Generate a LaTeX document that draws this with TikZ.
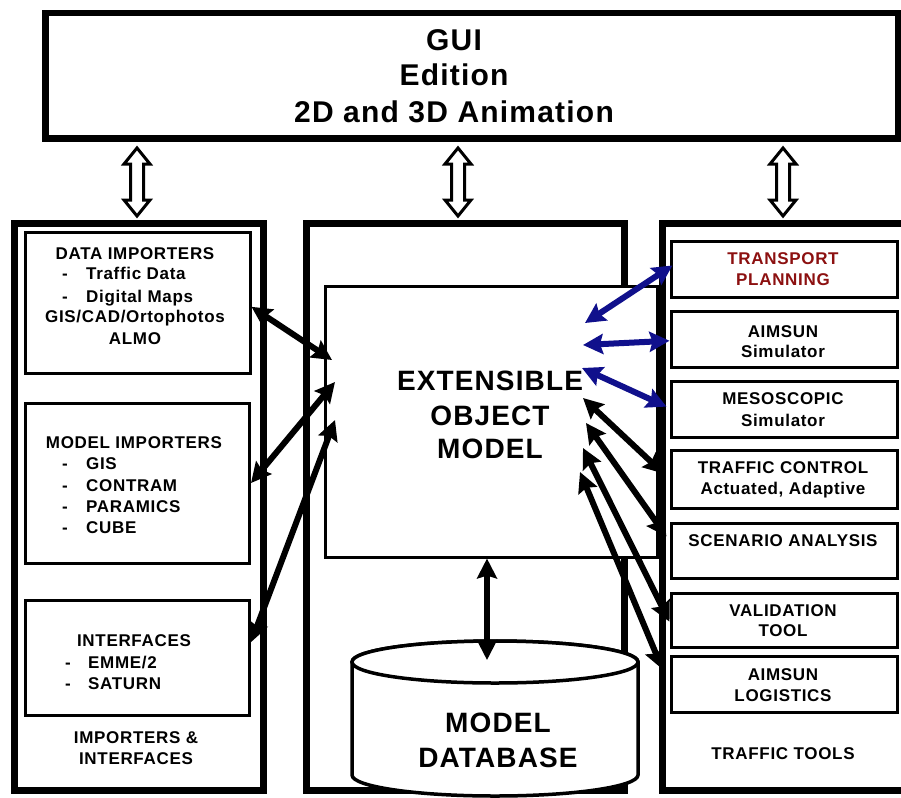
\documentclass[tikz,border=0pt]{standalone}
\usepackage{fontspec}
\setmainfont{Liberation Sans}[LetterSpace=4]
\usetikzlibrary{arrows.meta,calc}
\definecolor{navyarr}{RGB}{16,16,140}
\definecolor{tpred}{RGB}{140,16,16}
\newcommand\hollowud[2]{%
  \draw[hollowarr] let \p1=(#1), \p2=(#2) in
    (\x1,\y1) -- (\x1+13pt,\y1-16pt) -- (\x1+6.5pt,\y1-16pt) -- (\x1+6.5pt,\y2+16pt)
    -- (\x1+13pt,\y2+16pt) -- (\x1,\y2) -- (\x1-13pt,\y2+16pt) -- (\x1-6.5pt,\y2+16pt)
    -- (\x1-6.5pt,\y1-16pt) -- (\x1-13pt,\y1-16pt) -- cycle;}
\begin{document}
\begin{tikzpicture}[x=1pt,y=-1pt,
  panel/.style={draw, line width=6.5pt, fill=white, inner sep=0, anchor=north west},
  inbox/.style={draw, line width=3pt, fill=white, inner sep=0, anchor=north west},
  hollowarr/.style={draw, line width=3pt, fill=white, line join=miter},
  sm/.style={font=\fontsize{17}{20}\selectfont\bfseries, inner sep=0, anchor=base},
  smw/.style={font=\fontsize{17}{20}\selectfont\bfseries, inner sep=0, anchor=base west},
  big/.style={font=\fontsize{30}{35}\selectfont\bfseries, inner sep=0, anchor=base},
  eomf/.style={font=\fontsize{28}{33}\selectfont\bfseries, inner sep=0, anchor=base},
  dbl/.style={line width=6pt, {Stealth[length=20pt,width=20pt,inset=3pt]}-{Stealth[length=20pt,width=20pt,inset=3pt]}},
  dblb/.style={dbl, draw=navyarr, color=navyarr},
  cyl/.style={draw, line width=3.5pt, fill=white}]
\useasboundingbox (0,0) rectangle (901,797);
\clip (0,0) rectangle (901,797);
\fill[white] (0,0) rectangle (901,797);

% GUI
\node[panel, minimum width=853, minimum height=125] (gui) at (42,10) {};
\node[big] (g1) at (454,51) {GUI};
\node[big] (g2) at (454,86) {Edition};
\node[big] (g3) at (454,122) {2D and 3D Animation};

% panels
\node[panel, minimum width=249, minimum height=567] (lp) at (11,220) {};
\node[panel, minimum width=318, minimum height=567] (mp) at (303,220) {};
\node[inbox, minimum width=332, minimum height=271] (eom) at (323.5,284.5) {};
\node[panel, minimum width=271, minimum height=567] (rp) at (659,220) {};

% hollow arrows
\coordinate (ha1) at (137,148); \coordinate (hb1) at (137,216);
\coordinate (ha2) at (458,148); \coordinate (hb2) at (458,216);
\coordinate (ha3) at (783,148); \coordinate (hb3) at (783,216);
\hollowud{ha1}{hb1}
\hollowud{ha2}{hb2}
\hollowud{ha3}{hb3}

% EOM text
\node[eomf] (e1) at (490,390) {EXTENSIBLE};
\node[eomf] (e2) at (490,425) {OBJECT};
\node[eomf] (e3) at (490,458) {MODEL};

% database cylinder
\draw[cyl] (352,662) -- (352,775) arc[start angle=180, end angle=0, x radius=143, y radius=21]
  -- (638,662) arc[start angle=0, end angle=-180, x radius=143, y radius=21] -- cycle;
\draw[cyl] (495,662) ellipse [x radius=143, y radius=21];
\node[eomf] (db1) at (498,732) {MODEL};
\node[eomf] (db2) at (498,767) {DATABASE};
\coordinate (dbtop) at (487,660);

% left inner boxes
\node[inbox, minimum width=225, minimum height=141] (dimp) at (23.5,230.5) {};
\node[inbox, minimum width=224.5, minimum height=160] (mimp) at (23.5,401.5) {};
\node[inbox, minimum width=224.5, minimum height=115] (intf) at (23.5,598.5) {};

\node[sm] (d1) at (135,259) {DATA IMPORTERS};
\node[smw] (d2) at (62,279) {\makebox[24pt][l]{-}Traffic Data};
\node[smw] (d3) at (62,302) {\makebox[24pt][l]{-}Digital Maps};
\node[sm] (d4) at (135,322) {GIS/CAD/Ortophotos};
\node[sm] (d5) at (135,344) {ALMO};

\node[sm] (m1) at (134,448) {MODEL IMPORTERS};
\node[smw] (m2) at (62,469) {\makebox[24pt][l]{-}GIS};
\node[smw] (m3) at (62,491) {\makebox[24pt][l]{-}CONTRAM};
\node[smw] (m4) at (62,512) {\makebox[24pt][l]{-}PARAMICS};
\node[smw] (m5) at (62,533) {\makebox[24pt][l]{-}CUBE};

\node[sm] (i1) at (134,646) {INTERFACES};
\node[smw] (i2) at (65,668) {\makebox[23pt][l]{-}EMME/2};
\node[smw] (i3) at (65,689) {\makebox[23pt][l]{-}SATURN};

\node[sm] (lt1) at (136,743) {IMPORTERS \&};
\node[sm] (lt2) at (136,764) {INTERFACES};

% right inner boxes
\node[inbox, minimum width=226, minimum height=56] (tp) at (669.5,239.5) {};
\node[inbox, minimum width=226, minimum height=56] (aim) at (669.5,309.5) {};
\node[inbox, minimum width=226, minimum height=56] (meso) at (669.5,379.5) {};
\node[inbox, minimum width=226, minimum height=58] (tc) at (669.5,448.5) {};
\node[inbox, minimum width=226, minimum height=55] (sa) at (669.5,521.5) {};
\node[inbox, minimum width=226, minimum height=54] (vt) at (669.5,591.5) {};
\node[inbox, minimum width=226, minimum height=56] (al) at (669.5,654.5) {};

\node[sm, text=tpred] (tp1) at (783,264) {TRANSPORT};
\node[sm, text=tpred] (tp2) at (783,285) {PLANNING};
\node[sm] (a1) at (783,337) {AIMSUN};
\node[sm] (a2) at (783,357) {Simulator};
\node[sm] (ms1) at (783,404) {MESOSCOPIC};
\node[sm] (ms2) at (783,426) {Simulator};
\node[sm] (t1) at (783,473) {TRAFFIC CONTROL};
\node[sm] (t2) at (783,494) {Actuated, Adaptive};
\node[sm] (s1) at (783,546) {SCENARIO ANALYSIS};
\node[sm] (v1) at (783,616) {VALIDATION};
\node[sm] (v2) at (783,636) {TOOL};
\node[sm] (al1) at (783,680) {AIMSUN};
\node[sm] (al2) at (783,701) {LOGISTICS};
\node[sm] (rt) at (783,759) {TRAFFIC TOOLS};

% arrow end points inside EOM
\coordinate (L1) at (332,360);
\coordinate (L2) at (335,382);
\coordinate (L3) at (335,420);
\coordinate (R1) at (585,323);
\coordinate (R2) at (583,345);
\coordinate (R3) at (582,368);
\coordinate (R4) at (583,398);
\coordinate (R5) at (586,423);
\coordinate (R6) at (583,448);
\coordinate (R7) at (580,472);

% left arrows
\draw[dbl] ($(dimp.north east)!0.53!(dimp.south east)$) -- (L1);
\draw[dbl] (mimp.east) -- (L2);
\draw[dbl] ($(intf.north east)!0.37!(intf.south east)$) -- (L3);

% right arrows
\draw[dblb] (R1) -- ($(tp.north west)!0.44!(tp.south west)+(3,0)$);
\draw[dblb] (R2) -- ($(aim.north west)!0.53!(aim.south west)$);
\draw[dblb] (R3) -- ($(meso.north west)!0.46!(meso.south west)+(-3,0)$);
\draw[dbl] (R4) -- ($(tc.north west)!0.41!(tc.south west)+(-6,0)$);
\draw[dbl] (R5) -- ($(sa.north west)!0.26!(sa.south west)+(-3,0)$);
\draw[dbl] (R6) -- ($(vt.north west)!0.53!(vt.south west)$);
\draw[dbl] (R7) -- ($(al.north west)!0.25!(al.south west)+(-7,0)$);

% EOM <-> database
\draw[dbl, line width=6.5pt] (eom.south -| dbtop) -- (dbtop);
\end{tikzpicture}
\end{document}
